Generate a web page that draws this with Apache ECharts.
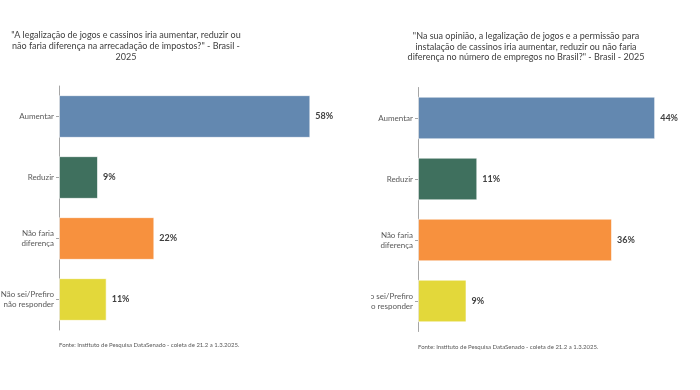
<!DOCTYPE html>
<html>
<head>
<meta charset="utf-8">
<script src="https://cdn.jsdelivr.net/npm/echarts@6/dist/echarts.min.js"></script>
<style>
html,body{margin:0;padding:0;background:#fff;width:700px;height:390px;overflow:hidden;}
#c1{position:absolute;left:0;top:0;width:350px;height:390px;overflow:hidden;}
#c2{position:absolute;left:371px;top:0;width:329px;height:390px;overflow:hidden;}
</style>
</head>
<body>
<div id="c1"></div>
<div id="c2"></div>
<script>
const categories = ["Aumentar", "Reduzir", "Não faria\ndiferença", "Não sei/Prefiro\nnão responder"];
const impostosValues = [58, 9, 22, 11];
const empregosValues = [44, 11, 36, 9];
const barColors = ["#6388B0", "#3F705E", "#F7913E", "#E3D83A"];
const title1 = "\"A legalização de jogos e cassinos iria aumentar, reduzir ou\nnão faria diferença na arrecadação de impostos?\" - Brasil -\n2025";
const title2 = "\"Na sua opinião, a legalização de jogos e a permissão para\ninstalação de cassinos iria aumentar, reduzir ou não faria\ndiferença no número de empregos no Brasil?\" - Brasil - 2025";
const footer = "Fonte: Instituto de Pesquisa DataSenado - coleta de 21.2 a 1.3.2025.";

const FONT = "Lato, 'Open Sans', sans-serif";

function makeOption(values, title, cfg) {
  return {
    animation: false,
    backgroundColor: "#fff",
    grid: { left: cfg.gridLeft, top: cfg.gridTop, width: cfg.gridWidth, height: 244, containLabel: false, outerBoundsMode: "none" },
    xAxis: { type: "value", min: 0, max: cfg.xMax, show: false, splitLine: { show: false } },
    yAxis: {
      type: "category",
      data: categories,
      inverse: true,
      axisLine: { show: true, lineStyle: { color: "#A6A6A6", width: 1 } },
      axisTick: { show: true, alignWithLabel: true, length: 3, lineStyle: { color: "#A6A6A6" } },
      axisLabel: { margin: 5, color: "#595959", fontSize: 8, fontFamily: FONT, lineHeight: 10, align: "right" }
    },
    series: [{
      type: "bar",
      data: values.map((v, i) => ({ value: v, itemStyle: { color: barColors[i] } })),
      barCategoryGap: "30%",
      itemStyle: { borderColor: "rgba(255,255,255,0.6)", borderWidth: 1 },
      label: {
        show: true, position: "right", distance: 5,
        formatter: p => p.value + "%",
        color: "#404040", fontWeight: "bold", fontSize: 9, fontFamily: FONT
      }
    }],
    graphic: [
      { type: "text", x: cfg.titleX, y: cfg.titleY,
        style: { text: title, textAlign: "center", textVerticalAlign: "top", fill: "#404040",
                 font: "9px " + FONT, lineHeight: cfg.titleLH } },
      { type: "text", x: cfg.gridLeft, y: cfg.footY,
        style: { text: footer, textAlign: "left", textVerticalAlign: "middle", fill: "#595959",
                 font: "6px " + FONT } }
    ]
  };
}

const ch1 = echarts.init(document.getElementById("c1"), null, { renderer: "canvas" });
ch1.setOption(makeOption(impostosValues, title1, {
  gridLeft: 59, gridTop: 86, gridWidth: 260, xMax: 60,
  titleX: 126, titleY: 30, titleLH: 11, footY: 345
}));
const ch2 = echarts.init(document.getElementById("c2"), null, { renderer: "canvas" });
ch2.setOption(makeOption(empregosValues, title2, {
  gridLeft: 47, gridTop: 87.5, gridWidth: 269.5, xMax: 50,
  titleX: 155, titleY: 31, titleLH: 10.5, footY: 347
}));
</script>
</body>
</html>
